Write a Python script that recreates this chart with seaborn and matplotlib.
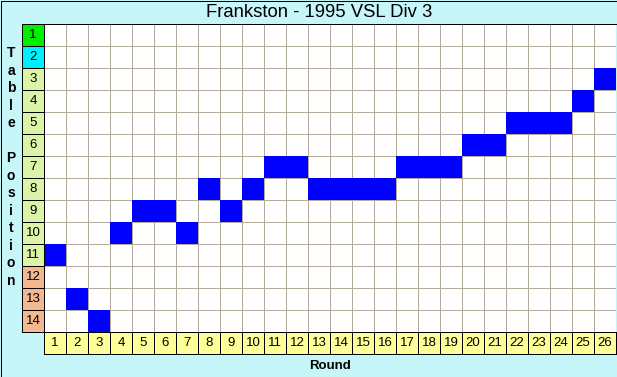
import numpy as np
import pandas as pd
import matplotlib
matplotlib.use("Agg")
import matplotlib.pyplot as plt
from matplotlib.colors import ListedColormap
from matplotlib.patches import Rectangle
import seaborn as sns

# ---- data ----
rounds = list(range(1, 27))
positions = [11, 13, 14, 10, 9, 9, 10, 8, 9, 8, 7, 7, 8, 8, 8, 8, 7, 7, 7, 6, 6, 5, 5, 5, 4, 3]
table_positions = list(range(1, 15))
# zone category for each table position: 0=champion, 1=runner-up, 2=mid, 3=relegation
zones = [0, 1, 2, 2, 2, 2, 2, 2, 2, 2, 2, 3, 3, 3]
zone_colors = ["#00ee00", "#00eeff", "#dcf4a8", "#f4b890"]

title = "Frankston - 1995 VSL Div 3"
xlabel = "Round"
ylabel = "Table Position"

BG = "#c6f6f8"
GRID = "#b4ab9c"
W, H = 617, 377
PX = 72 / 100  # one pixel in points

sns.set_theme(style="white")
plt.rcParams["font.family"] = ["Liberation Sans", "DejaVu Sans"]

fig = plt.figure(figsize=(W / 100, H / 100), dpi=100, facecolor=BG)

def ax_px(x0, y0, x1, y1):
    return fig.add_axes([x0 / W, 1 - y1 / H, (x1 - x0) / W, (y1 - y0) / H])

def grid_lines(a, ncols, nrows, color, below):
    a.set_xticks(np.arange(ncols + 1))
    a.set_yticks(np.arange(nrows + 1))
    a.set_xticklabels([]); a.set_yticklabels([])
    a.tick_params(length=0)
    a.set_axisbelow(below)
    a.grid(True, color=color, lw=PX)
    a.set_xlabel(""); a.set_ylabel("")
    for s in a.spines.values():
        s.set_visible(True); s.set_color("black"); s.set_linewidth(PX)

# main grid
mat = pd.DataFrame(0, index=table_positions, columns=rounds)
for r, p in zip(rounds, positions):
    mat.loc[p, r] = 1

ax = ax_px(44, 24, 616, 332)
ax.set_facecolor("white")
sns.heatmap(mat, ax=ax, mask=(mat == 0), cmap=ListedColormap(["#0000ff"]), vmin=0, vmax=1,
            cbar=False, linewidths=0)
grid_lines(ax, len(rounds), len(table_positions), GRID, True)
ax.spines["right"].set_visible(False)

# position column
pcol = pd.DataFrame({"z": zones}, index=table_positions)
pann = np.array([[str(p)] for p in table_positions])
axp = ax_px(22, 24, 44, 332)
sns.heatmap(pcol, ax=axp, cmap=ListedColormap(zone_colors), vmin=-0.5, vmax=3.5,
            cbar=False, linewidths=0, annot=pann, fmt="",
            annot_kws={"color": "black", "fontsize": 9.5})
grid_lines(axp, 1, len(table_positions), "black", False)

# round row
rrow = pd.DataFrame([[0] * len(rounds)], columns=rounds)
rann = np.array([[str(r) for r in rounds]])
axr = ax_px(44, 332, 616, 354)
sns.heatmap(rrow, ax=axr, cmap=ListedColormap(["#ffff99"]), cbar=False,
            linewidths=0, annot=rann, fmt="",
            annot_kws={"color": "black", "fontsize": 9.5})
grid_lines(axr, len(rounds), 1, "black", False)

# title strip line
fig.add_artist(plt.Line2D([22 / W, 1], [1 - 24 / H, 1 - 24 / H], color="black", lw=PX))

fig.text(319 / W, 1 - 12.5 / H, title, ha="center", va="center", fontsize=13.3, color="black")
fig.text(330 / W, 1 - 366 / H, xlabel, ha="center", va="center", fontsize=9.5,
         fontweight="bold", color="black")
vert = "\n".join(list(ylabel))
fig.text(11 / W, 1 - 167 / H, vert, ha="center", va="center", fontsize=10,
         fontweight="bold", color="black", linespacing=1.32)

# outer border
fig.add_artist(Rectangle((0.5 / W, 0.5 / H), (W - 1) / W, (H - 1) / H, transform=fig.transFigure,
                         fill=False, edgecolor="black", lw=PX))

fig.savefig("out.png", dpi=100, facecolor=BG)
